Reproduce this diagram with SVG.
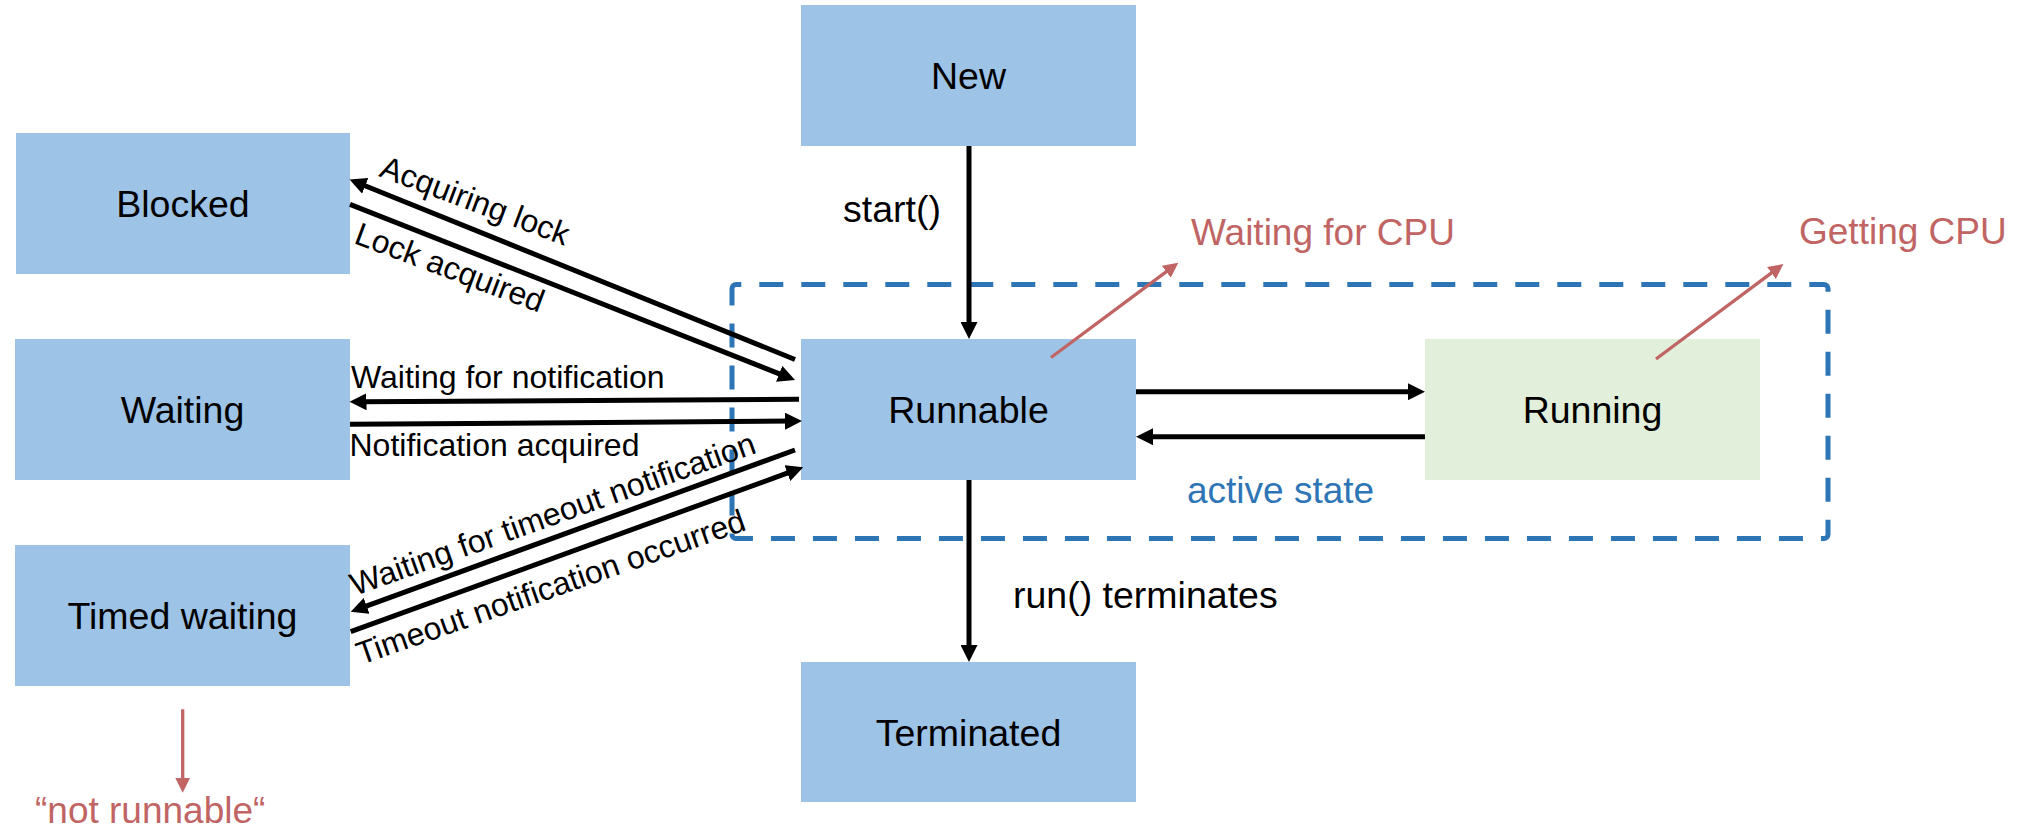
<svg xmlns="http://www.w3.org/2000/svg" width="2031" height="830" viewBox="0 0 2031 830">
  <style>
    .state { fill: #9DC3E6; }
    .active { fill: #E2EFDA; }
    .label { font-family: "Liberation Sans", Arial, sans-serif; font-size: 37.5px; fill: #000; }
    .node-label { text-anchor: middle; }
    .edge-label { font-family: "Liberation Sans", Arial, sans-serif; font-size: 32px; fill: #000; }
    .note { font-family: "Liberation Sans", Arial, sans-serif; font-size: 37px; fill: #C06464; }
    .scope-label { font-family: "Liberation Sans", Arial, sans-serif; font-size: 37px; fill: #2E75B6; }
    .flow { stroke: #000; stroke-width: 5; fill: none; marker-end: url(#arrow); }
    .pointer { stroke: #C06464; stroke-width: 3.3; fill: none; marker-end: url(#arrow-red); }
    .scope { fill: none; stroke: #2E75B6; stroke-width: 5; stroke-dasharray: 24 18; stroke-dashoffset: 18.7; }
  </style>
  <defs>
    <marker id="arrow" markerUnits="userSpaceOnUse" markerWidth="17" markerHeight="17" viewBox="0 0 17 17" refX="7" refY="8.5" orient="auto">
      <path d="M0,0 L17,8.5 L0,17 z" fill="#000"/>
    </marker>
    <marker id="arrow-red" markerUnits="userSpaceOnUse" markerWidth="15" markerHeight="15" viewBox="0 0 15 15" refX="6" refY="7.5" orient="auto">
      <path d="M0,0 L15,7.5 L0,15 z" fill="#C06464"/>
    </marker>
  </defs>

  <rect width="2031" height="830" fill="#fff"/>

  <!-- active-state boundary around Runnable and Running -->
  <rect class="scope" x="732" y="284.5" width="1096" height="254" rx="4"/>
  <text class="scope-label" x="1187" y="503">active state</text>

  <!-- states -->
  <g id="new">
    <rect class="state" x="801" y="5" width="335" height="141"/>
    <text class="label node-label" x="968.5" y="89">New</text>
  </g>
  <g id="blocked">
    <rect class="state" x="16" y="133" width="334" height="141"/>
    <text class="label node-label" x="183" y="217">Blocked</text>
  </g>
  <g id="waiting">
    <rect class="state" x="15" y="339" width="335" height="141"/>
    <text class="label node-label" x="182.5" y="423">Waiting</text>
  </g>
  <g id="timed-waiting">
    <rect class="state" x="15" y="545" width="335" height="141"/>
    <text class="label node-label" x="182.5" y="629">Timed waiting</text>
  </g>
  <g id="runnable">
    <rect class="state" x="801" y="339" width="335" height="141"/>
    <text class="label node-label" x="968.5" y="423">Runnable</text>
  </g>
  <g id="running">
    <rect class="active" x="1425" y="339" width="335" height="141"/>
    <text class="label node-label" x="1592.5" y="423">Running</text>
  </g>
  <g id="terminated">
    <rect class="state" x="801" y="662" width="335" height="140"/>
    <text class="label node-label" x="968.5" y="745.5">Terminated</text>
  </g>

  <!-- transitions -->
  <g id="connectors">
    <path class="flow" d="M969,146 L969,329"/>
    <path class="flow" d="M969,480 L969,652"/>
    <path class="flow" d="M1136,391.7 L1415,391.7"/>
    <path class="flow" d="M1425,436.7 L1146,436.7"/>
    <path class="flow" d="M795,359.5 L358.8,183.2"/>
    <path class="flow" d="M350,204.3 L785.7,376.3"/>
    <path class="flow" d="M799,399.3 L359.5,401.8"/>
    <path class="flow" d="M350,424.3 L792,421.1"/>
    <path class="flow" d="M795,450 L360.1,608.3"/>
    <path class="flow" d="M350.7,631.7 L793.9,470.7"/>

    <!-- annotation pointers -->
    <path class="pointer" d="M1051,357.5 L1171.1,268.1"/>
    <path class="pointer" d="M1656,359 L1776.2,269.4"/>
    <path class="pointer" d="M182.7,709.3 L182.7,783.7"/>
  </g>

  <!-- transition labels -->
  <text class="label" x="843" y="222">start()</text>
  <text class="label" x="1013" y="608">run() terminates</text>
  <text class="edge-label" transform="translate(378,176) rotate(20.5)">Acquiring lock</text>
  <text class="edge-label" transform="translate(352.7,242.7) rotate(20.6)">Lock acquired</text>
  <text class="edge-label" x="351" y="388">Waiting for notification</text>
  <text class="edge-label" x="349.5" y="456">Notification acquired</text>
  <text class="edge-label" transform="translate(355,596) rotate(-19.6)">Waiting for timeout notification</text>
  <text class="edge-label" transform="translate(361,665) rotate(-19.3)">Timeout notification occurred</text>

  <!-- annotations -->
  <text class="note" x="1191" y="245">Waiting for CPU</text>
  <text class="note" x="1799" y="244">Getting CPU</text>
  <text class="note" x="35" y="823">“not runnable“</text>
</svg>
